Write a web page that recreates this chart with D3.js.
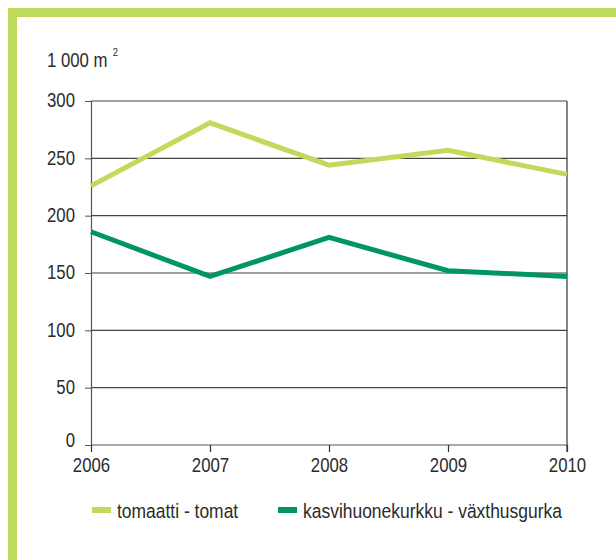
<!DOCTYPE html>
<html>
<head>
<meta charset="utf-8">
<script src="https://cdn.jsdelivr.net/npm/d3@7"></script>
<style>
  body { margin: 0; background: #fff; }
  svg text { font-family: "Liberation Sans Narrow", "Arial Narrow", "Liberation Sans", sans-serif; fill: #2b2b2b; }
</style>
</head>
<body>
<div id="chart"></div>
<script>
// Data (1 000 m2)
const years = [2006, 2007, 2008, 2009, 2010];
const tomato = [226, 281, 244, 257, 236];
const cucumber = [186, 147, 181, 152, 147];
const yTicks = [0, 50, 100, 150, 200, 250, 300];
const seriesNames = ["tomaatti - tomat", "kasvihuonekurkku - växthusgurka"];
const colors = ["#c0db5c", "#00975f"];

const W = 616, H = 560;
const margin = { top: 101, right: 49, bottom: 115, left: 91 };
const width = W - margin.left - margin.right;
const height = H - margin.top - margin.bottom;
const narrow = 0.86; // squeeze text to mimic a narrow face
const fontSize = "19.5px";

const root = d3.select("#chart").append("svg")
    .attr("width", W)
    .attr("height", H);

// Green frame on top and left
root.append("rect").attr("x", 8).attr("y", 8).attr("width", W - 8).attr("height", 9).attr("fill", "#c0db5c");
root.append("rect").attr("x", 8).attr("y", 8).attr("width", 9).attr("height", H - 8).attr("fill", "#c0db5c");

const svg = root.append("g")
    .attr("transform", `translate(${margin.left}, ${margin.top})`);

const x = d3.scalePoint().domain(years).range([0, width]);
const y = d3.scaleLinear().domain([0, 300]).range([height, 0]);

// Horizontal grid lines
svg.selectAll(".grid")
    .data(yTicks)
    .enter()
    .append("line")
    .attr("x1", 0).attr("x2", width)
    .attr("y1", d => y(d)).attr("y2", d => y(d))
    .attr("stroke", d => d === 0 ? "#555" : "#444")
    .attr("stroke-width", 1.2);

// Right border
svg.append("line")
    .attr("x1", width).attr("x2", width)
    .attr("y1", 0).attr("y2", height + 7)
    .attr("stroke", "#333").attr("stroke-width", 1.2);

// Y axis
const yAxis = svg.append("g")
    .call(d3.axisLeft(y).tickValues(yTicks).tickSize(6).tickPadding(10));
yAxis.select(".domain").attr("stroke", "#555").attr("stroke-width", 1.2);
yAxis.selectAll(".tick line").attr("stroke", "#555");
yAxis.selectAll("text")
    .style("font-size", fontSize).attr("fill", "#2b2b2b")
    .attr("x", -16 / narrow).attr("dy", d => d === 0 ? "0.1em" : "0.3em")
    .attr("transform", `scale(${narrow},1)`);

// X axis
const xAxis = svg.append("g")
    .attr("transform", `translate(0, ${height})`)
    .call(d3.axisBottom(x).tickSize(7).tickPadding(6).tickSizeOuter(0));
xAxis.select(".domain").remove();
xAxis.selectAll(".tick line").attr("stroke", "#333").attr("stroke-width", 1.2);
xAxis.selectAll("text")
    .style("font-size", fontSize).attr("fill", "#2b2b2b")
    .attr("y", 13).attr("dy", "0.71em")
    .attr("transform", `scale(${narrow},1)`);

// Unit label
const unit = root.append("g").attr("transform", `translate(47, 67) scale(${narrow},1)`)
    .append("text").style("font-size", fontSize);
unit.append("tspan").text("1 000 m");
unit.append("tspan").attr("dx", 6).attr("dy", -11).style("font-size", "11px").text("2");

// Lines
const line = d3.line()
    .x((d, i) => x(years[i]))
    .y(d => y(d));

[tomato, cucumber].forEach((s, i) => {
    svg.append("path")
        .datum(s)
        .attr("fill", "none")
        .attr("stroke", colors[i])
        .attr("stroke-width", 5)
        .attr("d", line);
});

// Legend
const legendX = [92, 278];
seriesNames.forEach((name, i) => {
    const g = root.append("g").attr("transform", `translate(${legendX[i]}, 510)`);
    g.append("rect").attr("x", 0).attr("y", -3).attr("width", 19).attr("height", 6).attr("fill", colors[i]);
    g.append("g").attr("transform", `translate(25, 8) scale(0.895,1)`)
        .append("text").style("font-size", fontSize).text(name);
});
</script>
</body>
</html>
